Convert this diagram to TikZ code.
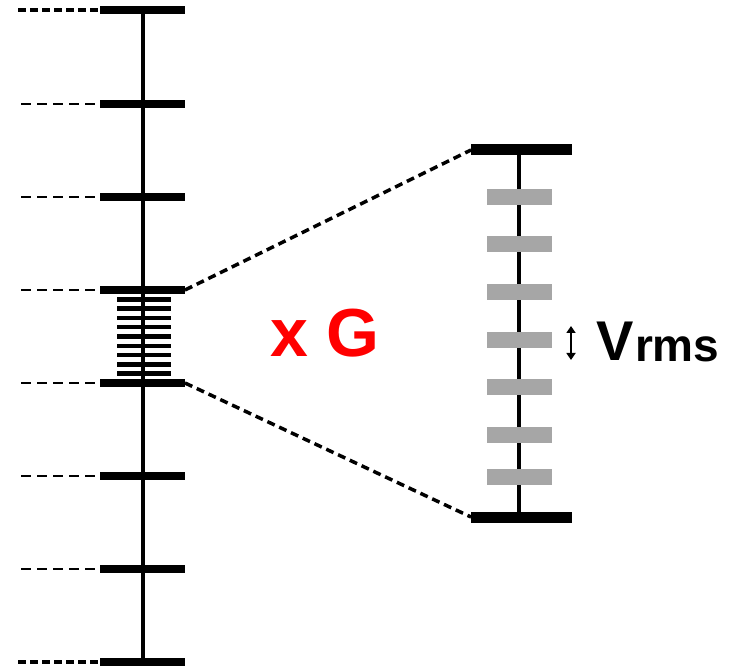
\documentclass[tikz,border=0pt]{standalone}
\usepackage{fontspec}
\setmainfont{Liberation Sans}
\usetikzlibrary{arrows.meta}

\begin{document}
\begin{tikzpicture}[x=1pt,y=-1pt,
  axisline/.style={line width=4pt},
  bigbar/.style={line width=8pt},
  finebar/.style={line width=4.5pt},
  graybar/.style={line width=16pt,color=black!35},
  endbar/.style={line width=11pt},
  thickguide/.style={line width=4pt,dash pattern=on 8pt off 4pt},
  thinguide/.style={line width=1.2pt,dash pattern=on 10pt off 6pt},
  zoomline/.style={line width=3.5pt,dash pattern=on 8pt off 5pt},
  >={Triangle[length=7pt,width=9pt]}]
\useasboundingbox (0,0) rectangle (734,668);
% main ladder
\draw[axisline] (143,10) -- (143,662);
\foreach \y in {10,104,197,290,383,476,569,662}
  \draw[bigbar] (100,\y) -- (185,\y);
\draw[thickguide] (18,10) -- (100,10);
\draw[thickguide] (18,662) -- (100,662);
\foreach \y in {104,197,290,383,476,569}
  \draw[thinguide] (21,\y) -- (100,\y);
\foreach \k in {1,...,9}
  \draw[finebar] (117,290+9.3*\k) -- (171,290+9.3*\k);
\coordinate (lowtop) at (185,290);
\coordinate (lowbot) at (185,383);
% magnified interval
\draw[axisline] (519,150) -- (519,517);
\foreach \y in {197,244,292,340,387,435,477}
  \draw[graybar] (487,\y) -- (552,\y);
\draw[endbar] (471,150) -- (572,150);
\draw[endbar] (471,517) -- (572,517);
\coordinate (hightop) at (471,150);
\coordinate (highbot) at (471,517);
\draw[zoomline] (lowtop) -- (hightop);
\draw[zoomline] (lowbot) -- (highbot);
% labels
\node[anchor=base,inner sep=0pt,text=red,font=\fontsize{68}{72}\selectfont\bfseries] (gain) at (325,357) {x G};
\coordinate (arrtop) at (571,326);
\coordinate (arrbot) at (571,360);
\draw[<->,line width=2pt] (arrtop) -- (arrbot);
\node[anchor=base west,inner sep=0pt,font=\fontsize{56}{60}\selectfont\bfseries] (vrms) at (596,361)
  {V\hspace{1.5pt}\raisebox{-1pt}{\fontsize{46}{50}\selectfont rms}};
\end{tikzpicture}
\end{document}
